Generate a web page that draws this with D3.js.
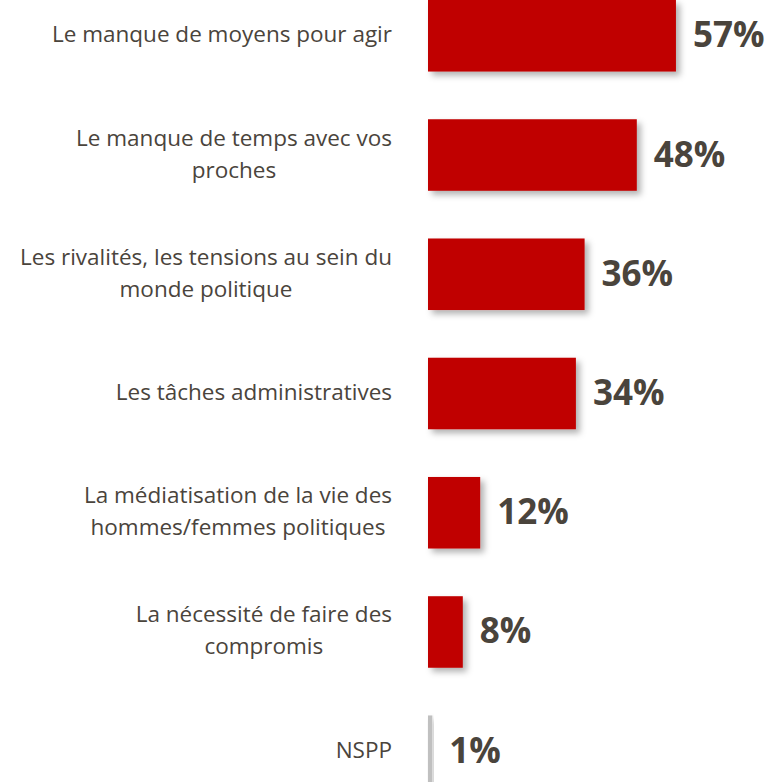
<!DOCTYPE html>
<html>
<head>
<meta charset="utf-8">
<script src="https://cdn.jsdelivr.net/npm/d3@7"></script>
<style>
  html, body { margin: 0; padding: 0; background: #fff; }
  svg { display: block; }
</style>
</head>
<body>
<svg width="767" height="782"></svg>
<script>
// Data
var categories = [
    ["Le manque de moyens pour agir"],
    ["Le manque de temps avec vos", "proches"],
    ["Les rivalités, les tensions au sein du", "monde politique"],
    ["Les tâches administratives"],
    ["La médiatisation de la vie des", "hommes/femmes politiques"],
    ["La nécessité de faire des", "compromis"],
    ["NSPP"]
];
var values = [57, 48, 36, 34, 12, 8, 1];
var barColors = ["#c00000", "#c00000", "#c00000", "#c00000", "#c00000", "#c00000", "#c0c0c0"];

var svg = d3.select('svg');
var textColor = "#4a443c";
var labelRight = 392;

// drop shadow for the bars
var defs = svg.append("defs");
var filter = defs.append("filter").attr("id", "shadow")
    .attr("x", "-20%").attr("y", "-20%").attr("width", "150%").attr("height", "150%");
filter.append("feDropShadow")
    .attr("dx", 4).attr("dy", 4).attr("stdDeviation", 3)
    .attr("flood-color", "#000").attr("flood-opacity", 0.3);

// Scales
var idx = d3.range(values.length);
var y = d3.scaleBand().domain(idx).range([0, 787]).paddingInner(0.4).paddingOuter(0);
var x = d3.scaleLinear().domain([0, 100]).range([428, 863]);

// Bars
svg.append("g").selectAll("rect")
    .data(idx)
    .enter()
    .append("rect")
    .attr("x", x(0))
    .attr("y", function(i) { return y(i); })
    .attr("width", function(i) { return x(values[i]) - x(0); })
    .attr("height", y.bandwidth())
    .attr("fill", function(i) { return barColors[i]; })
    .attr("filter", "url(#shadow)");

// Value labels
svg.append("g").selectAll("text")
    .data(idx)
    .enter()
    .append("text")
    .attr("x", function(i) { return x(values[i]) + 17; })
    .attr("y", function(i) { return y(i) + y.bandwidth() / 2 - 2; })
    .attr("dominant-baseline", "central")
    .style("font-family", "'Open Sans', sans-serif")
    .style("font-weight", "bold")
    .style("font-size", "35px")
    .style("fill", textColor)
    .text(function(i) { return values[i] + "%"; });

// Category labels (lines centered, block right aligned)
var lineH = 32;
idx.forEach(function(i) {
    var lines = categories[i];
    var g = svg.append("g");
    var texts = lines.map(function(line, k) {
        return g.append("text")
            .attr("y", y(i) + y.bandwidth() / 2 - 2 + (k - (lines.length - 1) / 2) * lineH)
            .attr("dominant-baseline", "central")
            .attr("text-anchor", "middle")
            .style("font-family", "'Open Sans', sans-serif")
            .style("font-size", "22.5px")
            .style("fill", textColor)
            .text(line);
    });
    var maxW = d3.max(texts, function(t) { return t.node().getComputedTextLength(); });
    texts.forEach(function(t) { t.attr("x", labelRight - maxW / 2); });
});
</script>
</body>
</html>
